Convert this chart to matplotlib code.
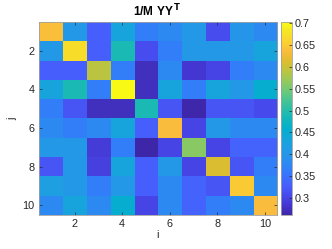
import numpy as np
import matplotlib
matplotlib.use('Agg')
import matplotlib.pyplot as plt
from matplotlib.colors import LinearSegmentedColormap

# 1/M YY^T values, row j = 1..10, column i = 1..10
row1 = [0.64, 0.405, 0.33, 0.43, 0.365, 0.38, 0.405, 0.31, 0.40, 0.38]
row2 = [0.405, 0.67, 0.33, 0.49, 0.31, 0.365, 0.405, 0.405, 0.405, 0.43]
row3 = [0.33, 0.33, 0.59, 0.365, 0.275, 0.38, 0.285, 0.30, 0.365, 0.38]
row4 = [0.43, 0.49, 0.365, 0.70, 0.275, 0.43, 0.365, 0.43, 0.405, 0.455]
row5 = [0.365, 0.32, 0.275, 0.275, 0.49, 0.32, 0.265, 0.32, 0.32, 0.305]
row6 = [0.38, 0.365, 0.38, 0.43, 0.33, 0.635, 0.30, 0.405, 0.38, 0.38]
row7 = [0.405, 0.405, 0.29, 0.365, 0.262, 0.30, 0.56, 0.30, 0.335, 0.335]
row8 = [0.32, 0.405, 0.295, 0.43, 0.33, 0.405, 0.30, 0.61, 0.32, 0.365]
row9 = [0.42, 0.405, 0.365, 0.405, 0.33, 0.38, 0.335, 0.32, 0.65, 0.38]
row10 = [0.38, 0.43, 0.38, 0.455, 0.30, 0.38, 0.335, 0.365, 0.38, 0.635]
M = np.array([row1, row2, row3, row4, row5, row6, row7, row8, row9, row10])

ticks = [2, 4, 6, 8, 10]
cbar_ticks = [0.3, 0.35, 0.4, 0.45, 0.5, 0.55, 0.6, 0.65, 0.7]

# approximate MATLAB parula
parula_pts = [
    (0.2422, 0.1504, 0.6603), (0.2683, 0.2134, 0.8166), (0.2788, 0.2910, 0.9287),
    (0.2810, 0.3668, 0.9870), (0.2291, 0.4474, 0.9953), (0.1813, 0.5212, 0.9629),
    (0.1562, 0.5765, 0.9260), (0.1220, 0.6185, 0.8893), (0.0711, 0.6573, 0.8516),
    (0.0165, 0.6879, 0.7991), (0.0770, 0.7147, 0.7302), (0.1657, 0.7469, 0.6561),
    (0.2998, 0.7729, 0.5641), (0.4501, 0.7881, 0.4582), (0.6036, 0.7900, 0.3474),
    (0.7492, 0.7703, 0.2454), (0.8775, 0.7386, 0.1866), (0.9817, 0.7375, 0.2374),
    (0.9842, 0.8235, 0.1907), (0.9585, 0.8995, 0.1471), (0.9769, 0.9839, 0.0805)]
parula = LinearSegmentedColormap.from_list('parula', parula_pts, N=256)

matplotlib.rc('font', family=['Liberation Sans', 'DejaVu Sans'], size=7.8)
edge = '#262626'

fig = plt.figure(figsize=(3.32, 2.49), dpi=100)
ax = fig.add_axes([0.117, 0.137, 0.717, 0.775])
im = ax.imshow(M, cmap=parula, vmin=0.262, vmax=0.702, aspect='auto',
               extent=[0.5, 10.5, 10.5, 0.5], interpolation='nearest')
ax.set_xticks(ticks)
ax.set_yticks(ticks)
ax.tick_params(direction='in', length=2.5, width=0.5, top=True, right=True,
               colors=edge, labelcolor=edge, pad=3)
for s in ax.spines.values():
    s.set_color('#a0a0a0')
    s.set_linewidth(0.6)
ax.set_xlabel('i', color=edge, labelpad=1)
ax.set_ylabel('j', color=edge, labelpad=4)
ax.set_title(r'1/M YY$\,^{\mathbf{T}}$', fontweight='bold', fontsize=8.6, pad=4)

cax = fig.add_axes([0.846, 0.137, 0.033, 0.775])
cb = fig.colorbar(im, cax=cax, ticks=cbar_ticks)
cb.ax.set_yticklabels(['%g' % t for t in cbar_ticks])
cb.ax.tick_params(direction='in', length=2, width=0.5, colors=edge, pad=2)
cb.outline.set_edgecolor('#a0a0a0')
cb.outline.set_linewidth(0.6)

plt.savefig('out.png', dpi=100)
